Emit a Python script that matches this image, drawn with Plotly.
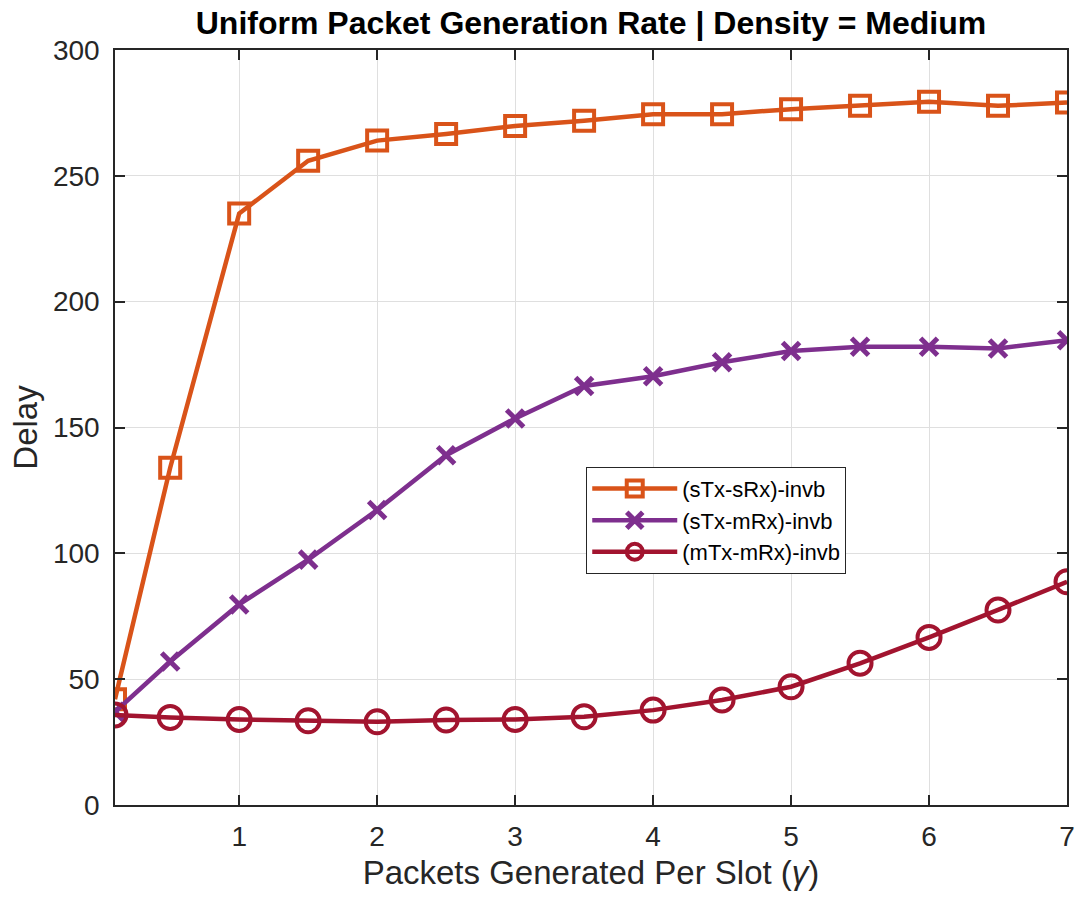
import plotly.graph_objects as go

# Packets generated per slot (gamma)
gamma = [0.1, 0.5, 1, 1.5, 2, 2.5, 3, 3.5, 4, 4.5, 5, 5.5, 6, 6.5, 7]

# Average delay for each transmission / reception scheme
delay_stx_srx = [42, 134, 235, 256, 264, 266.6, 269.8, 271.9, 274.5, 274.5,
                 276.5, 277.8, 279.4, 277.8, 279.1]
delay_stx_mrx = [37, 57, 79.7, 97.5, 117.2, 139, 153.6, 166.5, 170.4, 175.9,
                 180.4, 182.1, 182.1, 181.4, 184.7]
delay_mtx_mrx = [35.8, 34.8, 34.0, 33.5, 33.1, 33.8, 34.0, 35.1, 37.7, 41.7,
                 47.0, 56.3, 66.6, 77.5, 88.7]

x_ticks = [1, 2, 3, 4, 5, 6, 7]
y_ticks = [0, 50, 100, 150, 200, 250, 300]

ORANGE = "#D95319"
PURPLE = "#7E2F8E"
CRIMSON = "#A2142F"
AXIS = "#262626"
FONT = "Liberation Sans, Arial, Helvetica, sans-serif"

fig = go.Figure()

fig.add_trace(go.Scatter(
    x=gamma, y=delay_stx_srx, mode="lines+markers", name="(sTx-sRx)-invb",
    line=dict(color=ORANGE, width=4.5),
    marker=dict(symbol="square-open", size=20, color=ORANGE,
                line=dict(width=4, color=ORANGE)),
))
fig.add_trace(go.Scatter(
    x=gamma, y=delay_stx_mrx, mode="lines+markers", name="(sTx-mRx)-invb",
    line=dict(color=PURPLE, width=4.5),
    marker=dict(symbol="x-thin-open", size=17, color=PURPLE,
                line=dict(width=5, color=PURPLE)),
))
fig.add_trace(go.Scatter(
    x=gamma, y=delay_mtx_mrx, mode="lines+markers", name="(mTx-mRx)-invb",
    line=dict(color=CRIMSON, width=4.5),
    marker=dict(symbol="circle-open", size=23, color=CRIMSON,
                line=dict(width=4, color=CRIMSON)),
))

axis_common = dict(
    showline=True, linecolor=AXIS, linewidth=1.5, mirror="ticks",
    ticks="inside", ticklen=10, tickwidth=1.5, tickcolor=AXIS,
    showgrid=True, gridcolor="#DFDFDF", gridwidth=1,
    zeroline=False,
    tickfont=dict(family=FONT, size=28, color=AXIS),
)

fig.update_xaxes(
    range=[0.1, 7], tickvals=x_ticks, ticktext=[str(v) for v in x_ticks],
    ticklabelstandoff=6,
    title=dict(text="Packets Generated Per Slot (<i>γ</i>)", standoff=10,
               font=dict(family=FONT, size=33, color=AXIS)),
    **axis_common,
)
fig.update_yaxes(
    range=[0, 300], tickvals=y_ticks, ticktext=[str(v) for v in y_ticks],
    ticklabelstandoff=8,
    title=dict(text="Delay", standoff=5,
               font=dict(family=FONT, size=33, color=AXIS)),
    **axis_common,
)

fig.update_layout(
    width=1089, height=903,
    margin=dict(l=115, r=22, t=50, b=98),
    paper_bgcolor="white", plot_bgcolor="white",
    title=dict(text="<b>Uniform Packet Generation Rate | Density = Medium</b>",
               x=0.5427, xanchor="center", y=0.975, yanchor="middle",
               font=dict(family=FONT, size=32, color="black")),
    legend=dict(
        x=0.495, y=0.448, xanchor="left", yanchor="top",
        bgcolor="white", bordercolor=AXIS, borderwidth=1,
        font=dict(family=FONT, size=22, color="black"),
        itemwidth=85, tracegroupgap=0,
    ),
    showlegend=True,
)

fig.write_html("out.html")
